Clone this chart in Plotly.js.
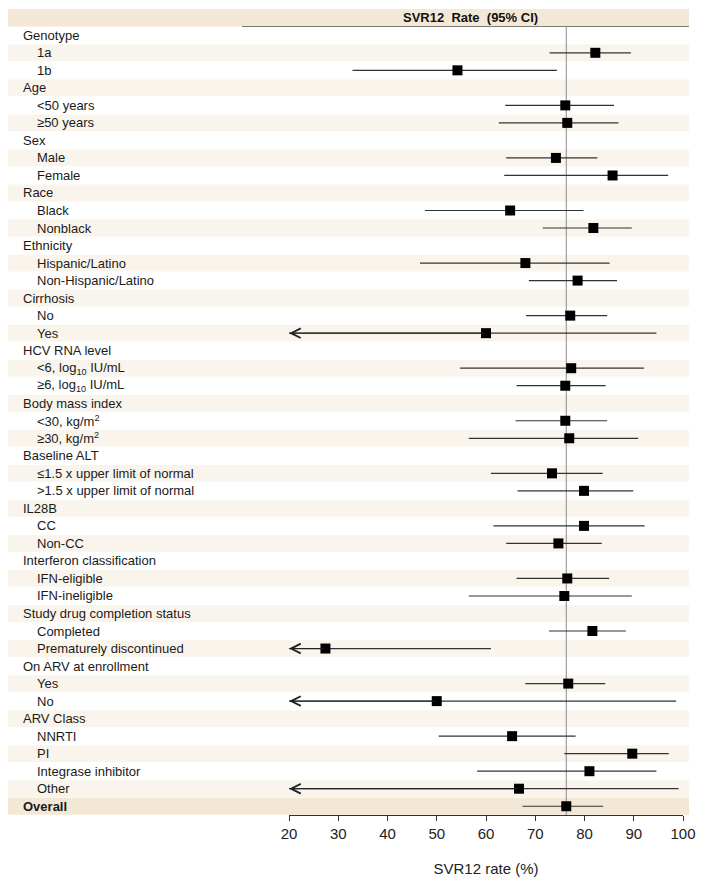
<!DOCTYPE html>
<html>
<head>
<meta charset="utf-8">
<script src="https://cdn.plot.ly/plotly-3.0.1.min.js"></script>
<style>html,body{margin:0;padding:0;background:#fff;}#chart{width:704px;height:886px;}</style>
</head>
<body>
<div id="chart"></div>
<script>
// ---- Data ----
const rowLabels = ["Genotype","1a","1b","Age","&lt;50 years","≥50 years","Sex","Male","Female","Race","Black","Nonblack",
  "Ethnicity","Hispanic/Latino","Non-Hispanic/Latino","Cirrhosis","No","Yes","HCV RNA level",
  "&lt;6, log<sub>10</sub> IU/mL","≥6, log<sub>10</sub> IU/mL","Body mass index","&lt;30, kg/m<sup>2</sup>","≥30, kg/m<sup>2</sup>",
  "Baseline ALT","≤1.5 x upper limit of normal","&gt;1.5 x upper limit of normal","IL28B","CC","Non-CC",
  "Interferon classification","IFN-eligible","IFN-ineligible","Study drug completion status","Completed",
  "Prematurely discontinued","On ARV at enrollment","Yes","No","ARV Class","NNRTI","PI","Integrase inhibitor","Other","Overall"];
const rowIsGroup = [1,0,0,1,0,0,1,0,0,1,0,0,1,0,0,1,0,0,1,0,0,1,0,0,1,0,0,1,0,0,1,0,0,1,0,0,1,0,0,1,0,0,0,0,1];
const svrRate = [null,82.2,54.2,null,76.1,76.5,null,74.2,85.7,null,64.9,81.8,null,68.0,78.6,null,77.1,60.0,null,77.3,76.1,
  null,76.1,76.9,null,73.4,79.9,null,79.9,74.7,null,76.5,75.9,null,81.6,27.4,null,76.7,50.0,null,65.3,89.7,81.0,66.7,76.3];
const ciLower = [null,72.9,32.9,null,63.9,62.6,null,64.1,63.7,null,47.6,71.5,null,46.6,68.7,null,68.1,null,null,54.7,66.2,
  null,66.0,56.5,null,61.0,66.4,null,61.5,64.1,null,66.2,56.5,null,72.8,null,null,68.0,null,null,50.4,75.9,58.2,null,67.4];
const ciUpper = [null,89.4,74.4,null,86.0,86.9,null,82.6,97.0,null,79.8,89.6,null,85.1,86.6,null,84.6,94.6,null,92.1,84.3,
  null,84.6,90.9,null,83.7,89.9,null,92.2,83.5,null,85.0,89.6,null,88.4,61.0,null,84.2,98.6,null,78.2,97.1,94.6,99.1,83.8];
// lower limit below the axis minimum (drawn as an arrow)
const ciLowerTruncated = [0,0,0,0,0,0,0,0,0,0,0,0,0,0,0,0,0,1,0,0,0,0,0,0,0,0,0,0,0,0,0,0,0,0,0,1,0,0,1,0,0,0,0,1,0];
const xTicks = [20,30,40,50,60,70,80,90,100];
const headerText = "SVR12\u00a0 Rate\u00a0 (95% CI)";
const xTitle = "SVR12 rate (%)";
const overallRate = 76.3;

// ---- Layout geometry ----
const W = 704, H = 886;
const M = {l: 289, r: 21, t: 9, b: 71};
const plotW = W - M.l - M.r;
const px2paper = p => (p - M.l) / plotW;
const xMin = 20, xMax = 100;
const nRows = rowLabels.length;
const yRows = rowLabels.map((_, i) => i + 1);

const errPlus = [], errMinus = [];
for (let i = 0; i < nRows; i++) {
  if (svrRate[i] === null) { errPlus.push(null); errMinus.push(null); continue; }
  errPlus.push(ciUpper[i] - svrRate[i]);
  errMinus.push(ciLowerTruncated[i] ? svrRate[i] - xMin : svrRate[i] - ciLower[i]);
}

const shapes = [];
const bandLight = '#faf5ec', bandDark = '#f3e8d6';
// header band
shapes.push({type:'rect', xref:'paper', yref:'y', x0:px2paper(8), x1:px2paper(689), y0:-0.5, y1:0.5,
  fillcolor:bandDark, line:{width:0}, layer:'below'});
for (let i = 0; i < nRows; i++) {
  const y = yRows[i];
  const last = i === nRows - 1;
  if (y % 2 === 0 || last) {
    shapes.push({type:'rect', xref:'paper', yref:'y', x0:px2paper(8), x1:px2paper(689), y0:y-0.48, y1:y+0.48,
      fillcolor: last ? bandDark : bandLight, line:{width:0}, layer:'below'});
  }
}
// header underline
shapes.push({type:'line', xref:'paper', yref:'y', x0:px2paper(242), x1:px2paper(689), y0:0.5, y1:0.5,
  line:{color:'#7a7a7a', width:1}});
// reference line at overall rate
shapes.push({type:'line', xref:'x', yref:'y', x0:overallRate, x1:overallRate, y0:0.5, y1:nRows+0.5,
  line:{color:'#8a8a8a', width:1}, layer:'below'});

const annotations = [];
annotations.push({xref:'paper', yref:'y', x:px2paper(470), y:0, text:'<b>'+headerText+'</b>', showarrow:false,
  xanchor:'center', yanchor:'middle', font:{family:'Liberation Sans, Arial, sans-serif', size:13, color:'#111'}});
for (let i = 0; i < nRows; i++) {
  const last = i === nRows - 1;
  annotations.push({xref:'paper', yref:'y', x:px2paper(rowIsGroup[i] ? 21 : 35), y:yRows[i],
    text: last ? '<b>'+rowLabels[i]+'</b>' : rowLabels[i], showarrow:false, xanchor:'left', yanchor:'middle',
    font:{family:'Liberation Sans, Arial, sans-serif', size:13, color:'#1a1a1a'}});
  if (ciLowerTruncated[i]) {
    annotations.push({xref:'x', yref:'y', axref:'x', ayref:'y', x:xMin, y:yRows[i], ax:svrRate[i], ay:yRows[i],
      text:'', showarrow:true, arrowhead:5, arrowsize:1.9, arrowwidth:1, arrowcolor:'#222', standoff:0, startstandoff:0});
  }
}

const trace = {
  type:'scatter', mode:'markers', x:svrRate, y:yRows,
  marker:{symbol:'square', size:10, color:'#000'},
  error_x:{type:'data', symmetric:false, array:errPlus, arrayminus:errMinus, width:0, thickness:1.2, color:'#333'},
  hoverinfo:'skip', cliponaxis:false
};

const layout = {
  width:W, height:H, margin:M, paper_bgcolor:'#fff', plot_bgcolor:'rgba(0,0,0,0)', showlegend:false,
  font:{family:'Liberation Sans, Arial, sans-serif', color:'#222'},
  xaxis:{range:[xMin, xMax], tickvals:xTicks, ticktext:xTicks.map(String), ticks:'outside', ticklen:5, tickwidth:1,
    tickcolor:'#333', showline:true, linecolor:'#333', linewidth:1, showgrid:false, zeroline:false,
    tickfont:{size:15, color:'#222'}, title:{text:xTitle, font:{size:15, color:'#222'}, standoff:22}, automargin:false},
  yaxis:{range:[nRows+0.5, -0.5], visible:false, showgrid:false, zeroline:false, automargin:false},
  shapes:shapes, annotations:annotations
};

Plotly.newPlot('chart', [trace], layout, {displayModeBar:false, staticPlot:true});
</script>
</body>
</html>
